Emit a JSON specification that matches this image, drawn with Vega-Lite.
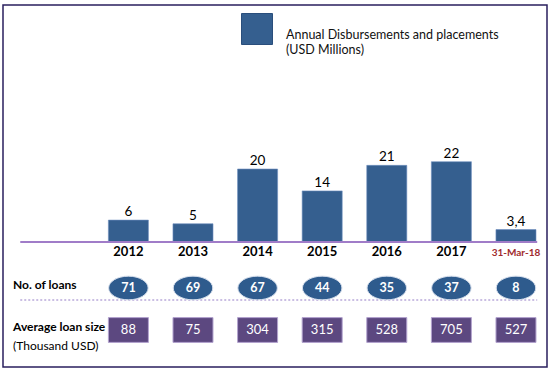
{
  "$schema": "https://vega.github.io/schema/vega-lite/v6.json",
  "width": 544,
  "height": 362,
  "padding": {"left": 3, "top": 5, "right": 3, "bottom": 3},
  "autosize": {"type": "none"},
  "config": {
    "view": {"stroke": "#2A1F5E", "strokeWidth": 1.5},
    "font": "Lato",
    "locale": {"number": {"decimal": ",", "thousands": ".", "grouping": [3], "currency": ["", ""]}}
  },
  "datasets": {
    "amounts": [
      {"year": "2012", "amount": 6},
      {"year": "2013", "amount": 5},
      {"year": "2014", "amount": 20},
      {"year": "2015", "amount": 14},
      {"year": "2016", "amount": 21},
      {"year": "2017", "amount": 22},
      {"year": "31-Mar-18", "amount": 3.4}
    ],
    "rows": [
      {"year": "2012", "metric": "No. of loans", "value": 71},
      {"year": "2013", "metric": "No. of loans", "value": 69},
      {"year": "2014", "metric": "No. of loans", "value": 67},
      {"year": "2015", "metric": "No. of loans", "value": 44},
      {"year": "2016", "metric": "No. of loans", "value": 35},
      {"year": "2017", "metric": "No. of loans", "value": 37},
      {"year": "31-Mar-18", "metric": "No. of loans", "value": 8},
      {"year": "2012", "metric": "Average loan size", "value": 88},
      {"year": "2013", "metric": "Average loan size", "value": 75},
      {"year": "2014", "metric": "Average loan size", "value": 304},
      {"year": "2015", "metric": "Average loan size", "value": 315},
      {"year": "2016", "metric": "Average loan size", "value": 528},
      {"year": "2017", "metric": "Average loan size", "value": 705},
      {"year": "31-Mar-18", "metric": "Average loan size", "value": 527}
    ],
    "rowLabels": [
      {"metric": "No. of loans", "unit": ""},
      {"metric": "Average loan size", "unit": "(Thousand USD)"}
    ]
  },
  "resolve": {"scale": {"y": "independent"}},
  "layer": [
    {
      "data": {"name": "amounts"},
      "encoding": {
        "x": {
          "field": "year",
          "type": "nominal",
          "sort": null,
          "scale": {
            "type": "band",
            "domain": ["2012", "2013", "2014", "2015", "2016", "2017", "31-Mar-18"],
            "range": [17, 533],
            "paddingInner": 0.38,
            "paddingOuter": 0.684,
            "align": 1
          },
          "axis": null
        },
        "y": {
          "field": "amount",
          "type": "quantitative",
          "scale": {"domain": [0, 22], "range": [237, 156.7], "nice": false},
          "axis": null
        }
      },
      "layer": [
        {
          "mark": {"type": "bar", "stroke": "#6F8FBF", "strokeWidth": 0.6},
          "encoding": {
            "color": {
              "datum": "Annual Disbursements and placements",
              "scale": {"range": ["#355F8F"]},
              "legend": {
                "orient": "none",
                "legendX": 238,
                "legendY": 8,
                "title": null,
                "symbolType": "square",
                "symbolSize": 961,
                "symbolStrokeColor": "#2A4E7C",
                "symbolStrokeWidth": 1,
                "symbolOpacity": 1,
                "labelFontSize": 12.5,
                "labelColor": "#111111",
                "labelOffset": 13,
                "labelBaseline": "top",
                "labelLimit": 400,
                "labelExpr": "['Annual Disbursements and placements', ' (USD Millions)']"
              }
            }
          }
        },
        {
          "mark": {"type": "text", "dy": -8, "fontSize": 13.5, "color": "#000000"},
          "encoding": {
            "text": {"field": "amount", "type": "quantitative", "format": "~g"}
          }
        },
        {
          "transform": [{"filter": "datum.year == '2012'"}],
          "mark": {"type": "rule", "color": "#A07CC8", "strokeWidth": 2},
          "encoding": {
            "x": {"datum": "2012", "bandPosition": -2.2},
            "x2": {"datum": "31-Mar-18", "bandPosition": 1.03},
            "y": {"datum": 0}
          }
        },
        {
          "transform": [{"filter": "datum.year != '31-Mar-18'"}],
          "mark": {"type": "text", "baseline": "top", "dy": 4, "fontWeight": "bold", "fontSize": 13, "color": "#000000"},
          "encoding": {
            "y": {"datum": 0},
            "text": {"field": "year"}
          }
        },
        {
          "transform": [{"filter": "datum.year == '31-Mar-18'"}],
          "mark": {"type": "text", "baseline": "top", "dy": 6, "fontWeight": "bold", "fontSize": 10, "color": "#A02B2E"},
          "encoding": {
            "y": {"datum": 0},
            "text": {"field": "year"}
          }
        }
      ]
    },
    {
      "encoding": {
        "y": {
          "field": "metric",
          "type": "nominal",
          "sort": null,
          "scale": {
            "type": "band",
            "domain": ["No. of loans", "Average loan size"],
            "range": [271, 337],
            "paddingInner": 0.4286,
            "paddingOuter": 0
          },
          "axis": null
        }
      },
      "layer": [
        {
          "data": {"name": "rowLabels"},
          "mark": {"type": "rule", "strokeDash": [2, 2], "color": "#B9A9DA", "strokeWidth": 1.5},
          "transform": [{"filter": "datum.metric == 'No. of loans'"}],
          "encoding": {
            "x": {"datum": "2012", "bandPosition": -2.2, "axis": null},
            "x2": {"datum": "31-Mar-18", "bandPosition": 1.03},
            "y": {"field": "metric", "type": "nominal", "bandPosition": 1, "axis": null}
          }
        },
        {
          "data": {"name": "rows"},
          "transform": [{"filter": "datum.metric == 'No. of loans'"}],
          "encoding": {
            "x": {"field": "year", "type": "nominal", "sort": null, "axis": null}
          },
          "layer": [
            {
              "mark": {
                "type": "point",
                "shape": "M-1,0A1,0.6 0 1,1 1,0A1,0.6 0 1,1 -1,0Z",
                "size": 1560,
                "filled": true,
                "fill": "#2E5B8D",
                "stroke": "#D5DEEC",
                "strokeWidth": 1,
                "opacity": 1
              }
            },
            {
              "mark": {"type": "text", "color": "#FFFFFF", "fontWeight": "bold", "fontSize": 12.5, "baseline": "middle"},
              "encoding": {"text": {"field": "value", "type": "quantitative"}}
            }
          ]
        },
        {
          "data": {"name": "rows"},
          "transform": [{"filter": "datum.metric == 'Average loan size'"}],
          "encoding": {
            "x": {"field": "year", "type": "nominal", "sort": null, "axis": null}
          },
          "layer": [
            {
              "mark": {
                "type": "point",
                "shape": "M-1,-0.62L1,-0.62L1,0.62L-1,0.62Z",
                "size": 1600,
                "filled": true,
                "fill": "#5C4880",
                "stroke": "#B3A3CF",
                "strokeWidth": 1,
                "opacity": 1
              }
            },
            {
              "mark": {"type": "text", "color": "#FFFFFF", "fontSize": 13, "baseline": "middle"},
              "encoding": {"text": {"field": "value", "type": "quantitative"}}
            }
          ]
        },
        {
          "data": {"name": "rowLabels"},
          "mark": {"type": "text", "align": "left", "baseline": "middle", "fontWeight": "bold", "fontSize": 12, "dy": -3, "color": "#000000"},
          "encoding": {
            "x": {"datum": "2012", "bandPosition": -2.38, "axis": null},
            "text": {"field": "metric"}
          }
        },
        {
          "data": {"name": "rowLabels"},
          "mark": {"type": "text", "align": "left", "baseline": "middle", "fontSize": 12, "dy": 16, "color": "#000000"},
          "encoding": {
            "x": {"datum": "2012", "bandPosition": -2.38, "axis": null},
            "text": {"field": "unit"}
          }
        }
      ]
    }
  ]
}
